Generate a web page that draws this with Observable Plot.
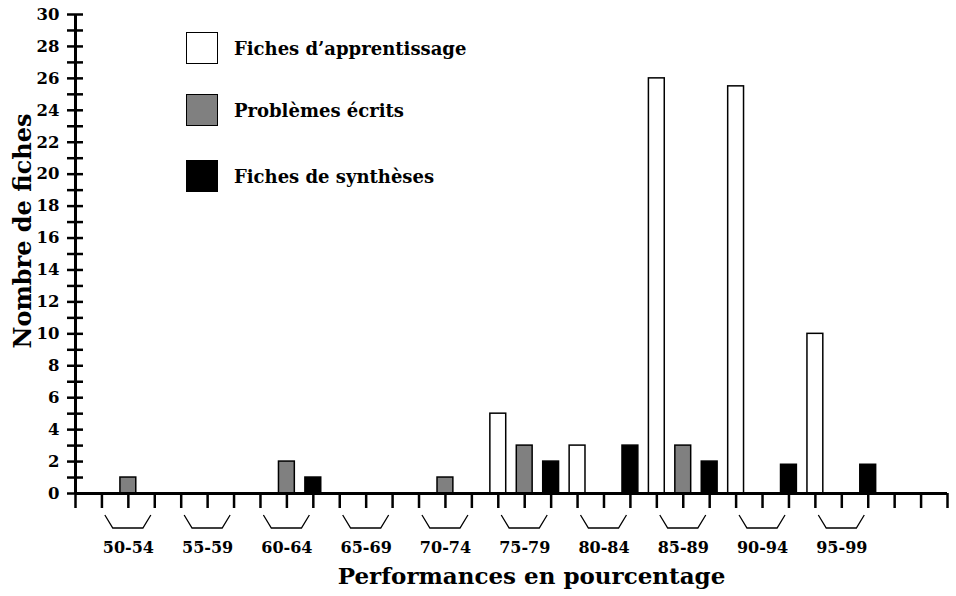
<!DOCTYPE html>
<html><head><meta charset="utf-8">
<script src="https://cdn.jsdelivr.net/npm/d3@7"></script>
<script src="https://cdn.jsdelivr.net/npm/@observablehq/plot@0.6"></script>
<style>
body{margin:0;background:#fff;}
#wrap{position:relative;width:956px;height:596px;font-family:"DejaVu Serif",serif;font-weight:bold;color:#000;}
.item{position:absolute;left:186px;display:flex;align-items:center;white-space:nowrap;font-size:18px;}
.sw{width:32px;height:32px;border:1.5px solid #000;box-sizing:border-box;margin-right:16px;}
</style>
</head><body>
<div id="wrap"></div>
<script>
const groups = ["50-54","55-59","60-64","65-69","70-74","75-79","80-84","85-89","90-94","95-99"];
const seriesNames = ["Fiches d’apprentissage","Problèmes écrits","Fiches de synthèses"];
const apprentissage = [0,0,0,0,0,5,3,26,25.5,10];
const problemes = [1,0,2,0,1,3,0,3,0,0];
const syntheses = [0,0,1,0,0,2,3,2,1.8,1.8];
const yTicks = d3.range(0,31);
const yLabels = d3.range(0,31,2);
const slotTicks = d3.range(0,34);
const fills = ["#ffffff","#808080","#000000"];

const seriesValues = [apprentissage, problemes, syntheses];
const rows = groups.flatMap((g,gi)=>seriesValues.map((arr,si)=>({
  group:g, series:si, value:arr[gi], slot:3*gi+si+1
}))).filter(d=>d.value>0);

function brackets(index, scales) {
  const x = scales.x, y0 = scales.y(0);
  const g = d3.create("svg:g").attr("fill","none").attr("stroke","#000").attr("stroke-width",1.3);
  groups.forEach((_,gi)=>{
    const c = 3*gi+2;
    g.append("path").attr("d", d3.line()([[x(c-0.87), y0+22],[x(c-0.57), y0+35],[x(c+0.57), y0+35],[x(c+0.87), y0+22]]));
  });
  return g.node();
}

const chart = Plot.plot({
  width: 956, height: 596,
  marginLeft: 75, marginRight: 9, marginTop: 14, marginBottom: 103,
  style: {fontFamily: "DejaVu Serif, serif", fontWeight: "bold", color: "#000", background: "#fff"},
  x: {domain: [0,33]},
  y: {domain: [0,30]},
  color: {type: "identity"},
  marks: [
    Plot.rectY(rows, {x1: d=>d.slot-0.3, x2: d=>d.slot+0.3, y1: 0, y2: "value", fill: d=>fills[d.series], stroke: "#000", strokeWidth: 1.5}),
    Plot.ruleY([0], {stroke: "#000", strokeWidth: 3}),
    Plot.ruleX([0], {stroke: "#000", strokeWidth: 3}),
    Plot.axisX({ticks: slotTicks, tickSize: 15, tickFormat: () => "", strokeWidth: 2.5, label: null}),
    Plot.axisX({ticks: groups.map((_,i)=>3*i+2), tickFormat: d => groups[(d-2)/3], tickSize: 0, tickPadding: 48, fontSize: 16, fontWeight: "bold", label: null}),
    Plot.axisY({ticks: yTicks, tickSize: 16, dx: 8, tickFormat: () => "", strokeWidth: 2.5, label: null}),
    Plot.axisY({ticks: yLabels, tickSize: 0, tickPadding: 16, fontSize: 16.5, fontWeight: "bold", label: null}),
    brackets,
    Plot.text(["Nombre de fiches"], {frameAnchor: "left", textAnchor: "middle", lineAnchor: "middle", rotate: -90, dx: -52, dy: -23, fontSize: 24, fontWeight: "bold"}),
    Plot.text(["Performances en pourcentage"], {frameAnchor: "bottom", textAnchor: "middle", lineAnchor: "middle", dx: 20, dy: 83, fontSize: 23, fontWeight: "bold"})
  ]
});
const wrap = document.getElementById("wrap");
wrap.appendChild(chart);
const legendTops = [32, 94, 160];
seriesNames.forEach((name,i)=>{
  const it = document.createElement("div");
  it.className = "item";
  it.style.top = legendTops[i] + "px";
  const sw = document.createElement("div");
  sw.className = "sw";
  sw.style.background = fills[i];
  const t = document.createElement("span");
  t.textContent = name;
  it.appendChild(sw); it.appendChild(t);
  wrap.appendChild(it);
});
</script>
</body></html>
